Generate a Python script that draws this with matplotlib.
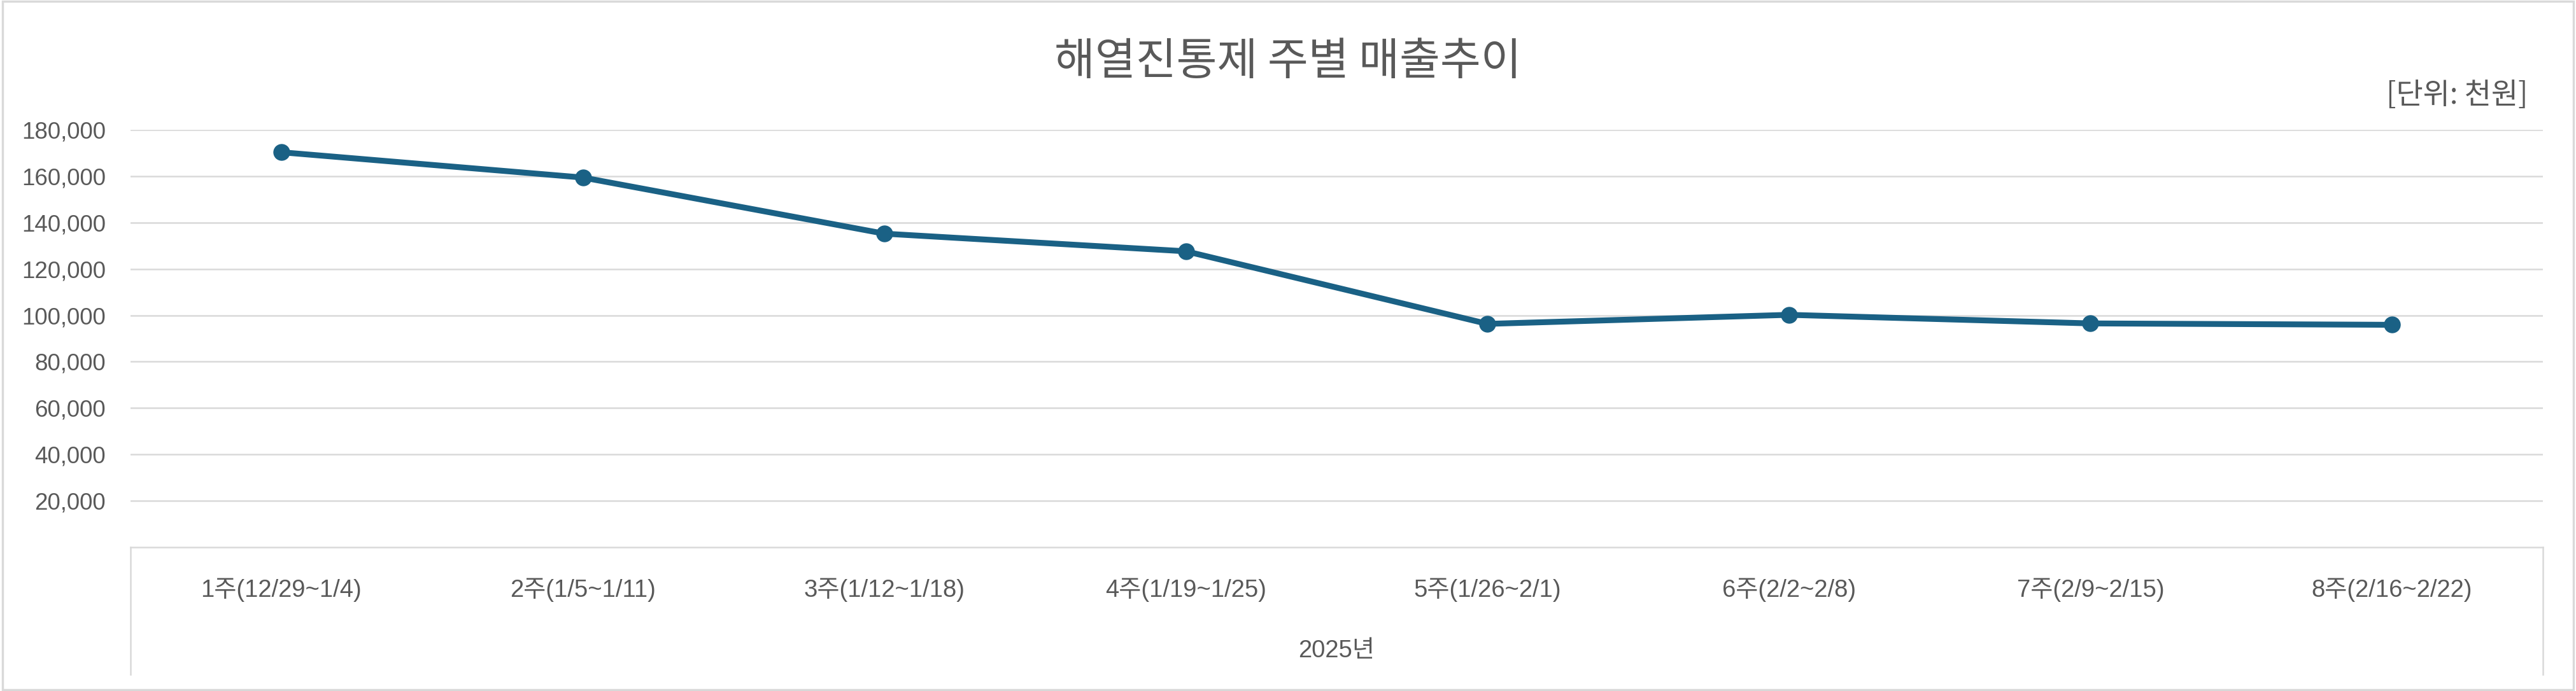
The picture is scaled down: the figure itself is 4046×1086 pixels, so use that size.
import matplotlib.pyplot as plt
from matplotlib.patches import Rectangle
from matplotlib.ticker import FuncFormatter

# 주별 매출 (단위: 천원)
weeks = ['1주(12/29~1/4)', '2주(1/5~1/11)', '3주(1/12~1/18)', '4주(1/19~1/25)',
         '5주(1/26~2/1)', '6주(2/2~2/8)', '7주(2/9~2/15)', '8주(2/16~2/22)']
sales = [170300, 159400, 135200, 127600, 96300, 100200, 96500, 95900]
y_ticks = [20000, 40000, 60000, 80000, 100000, 120000, 140000, 160000, 180000]
year_label = '2025년'

TEXT = '#595959'
GRID = '#D9D9D9'
LINE = '#1A6185'
FONTS = ['Liberation Sans', 'Noto Sans CJK KR', 'DejaVu Sans']

plt.rcParams['font.family'] = FONTS

fig = plt.figure(figsize=(40.46, 10.86), dpi=100)
ax = fig.add_axes([0.0507, 0.2081, 0.9364, 0.6041])

x = list(range(len(weeks)))
ax.plot(x, sales, color=LINE, linewidth=6.6, marker='o', markersize=18,
        solid_joinstyle='round', zorder=3)

ax.set_xlim(-0.5, len(weeks) - 0.5)
ax.set_ylim(0, 180000)
ax.set_yticks(y_ticks)
ax.yaxis.set_major_formatter(FuncFormatter(lambda v, p: f'{int(v):,}'))
ax.tick_params(axis='y', length=0, pad=28, labelsize=26.5, labelcolor=TEXT)
ax.set_xticks([])
ax.grid(axis='y', color=GRID, linewidth=1.8)
ax.set_axisbelow(True)

for side in ['top', 'right', 'left']:
    ax.spines[side].set_visible(False)
ax.spines['bottom'].set_color(GRID)
ax.spines['bottom'].set_linewidth(1.8)

# category box (multi-level axis)
box_bottom = -0.305
for xb in [0, 1]:
    ax.plot([xb, xb], [0, box_bottom], transform=ax.transAxes, color=GRID,
            linewidth=1.8, clip_on=False)

trans = ax.get_xaxis_transform()
for i, w in enumerate(weeks):
    ax.text(i, -0.102, w, transform=trans, ha='center', va='center',
            fontsize=27.5, color=TEXT)
ax.text(0.5, -0.2485, year_label, transform=ax.transAxes, ha='center',
        va='center', fontsize=27.5, color=TEXT)

fig.text(0.5, 0.91, '해열진통제 주별 매출추이', ha='center', va='center',
         fontsize=50, color=TEXT, family=['Noto Sans CJK KR', 'DejaVu Sans'])
fig.text(0.9813, 0.862, '[단위: 천원]', ha='right', va='center',
         fontsize=33, color=TEXT, family=['Noto Sans CJK KR', 'DejaVu Sans'])

fig.patches.append(Rectangle((0.001, 0.002), 0.998, 0.996, transform=fig.transFigure,
                             fill=False, edgecolor=GRID, linewidth=2.5))

plt.savefig('out.png', dpi=100)
